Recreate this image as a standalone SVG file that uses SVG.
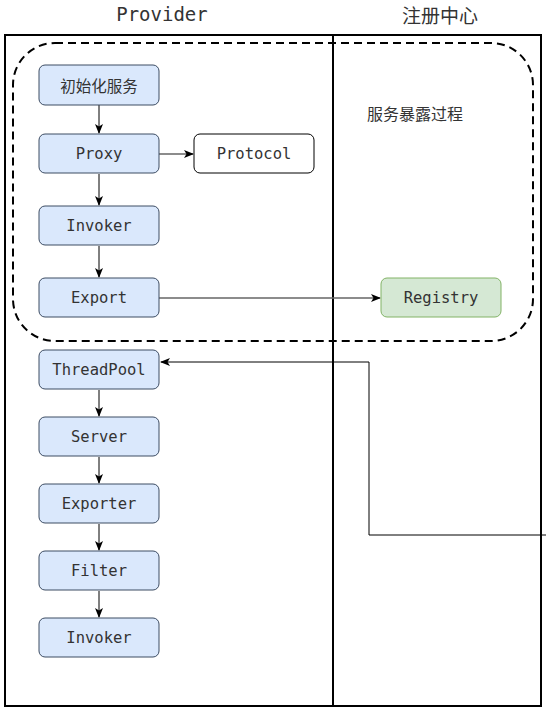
<svg xmlns="http://www.w3.org/2000/svg" width="546" height="708" viewBox="0 0 546 708">
<defs>
<style>
.lane{fill:none;stroke:#000;stroke-width:2}
.blue{fill:#dae8fc;stroke:#3c4c63;stroke-width:1}
.green{fill:#d5e8d4;stroke:#82b366;stroke-width:1}
.white{fill:#fff;stroke:#000;stroke-width:1}
.t{font-family:"DejaVu Sans Mono","Liberation Mono",monospace;font-size:15.5px;fill:#333;text-anchor:middle;dominant-baseline:central}
.cn{font-family:"Noto Sans CJK SC","Noto Sans",sans-serif;fill:#333;text-anchor:middle;dominant-baseline:central}
.c{fill:none;stroke:#000;stroke-width:1}
.cg{fill:none;stroke:#666;stroke-width:1.5}
</style>
<marker id="ah" viewBox="0 0 10 10" refX="9" refY="5" markerWidth="10" markerHeight="10" markerUnits="userSpaceOnUse" orient="auto">
<path d="M0,1 L10,5 L0,9 L2.5,5 Z" fill="#000"/>
</marker>
</defs>
<rect width="546" height="708" fill="#fff"/>
<g id="lanes">
<rect class="lane" x="5" y="35" width="328" height="671"/>
<rect class="lane" x="333" y="35" width="208" height="671"/>
<text class="t" x="162" y="14" style="font-size:19px">Provider</text>
<text class="cn" x="440" y="14" style="font-size:19px">注册中心</text>
</g>
<g id="group-export">
<rect x="13" y="43" width="520" height="298" rx="42" ry="42" fill="none" stroke="#000" stroke-width="2" stroke-dasharray="8,5"/>
<text class="cn" x="415" y="113" style="font-size:16px">服务暴露过程</text>
</g>
<g id="connectors">
<line class="c" x1="99" y1="105" x2="99" y2="133" marker-end="url(#ah)"/>
<line class="cg" x1="159" y1="154" x2="193" y2="154" marker-end="url(#ah)"/>
<line class="c" x1="99" y1="174" x2="99" y2="205" marker-end="url(#ah)"/>
<line class="c" x1="99" y1="246" x2="99" y2="277" marker-end="url(#ah)"/>
<line class="cg" x1="159" y1="298" x2="380" y2="298" marker-end="url(#ah)"/>
<polyline class="c" points="546,535 369,535 369,362 161,362" marker-end="url(#ah)"/>
<line class="c" x1="99" y1="390" x2="99" y2="416" marker-end="url(#ah)"/>
<line class="c" x1="99" y1="457" x2="99" y2="483" marker-end="url(#ah)"/>
<line class="c" x1="99" y1="524" x2="99" y2="550" marker-end="url(#ah)"/>
<line class="c" x1="99" y1="591" x2="99" y2="617" marker-end="url(#ah)"/>
</g>
<g id="n-init"><rect class="blue" x="39" y="65" width="120" height="40" rx="6"/><text class="cn" x="99" y="85" style="font-size:15.5px">初始化服务</text></g>
<g id="n-proxy"><rect class="blue" x="39" y="134" width="120" height="39" rx="6"/><text class="t" x="99" y="154">Proxy</text></g>
<g id="n-protocol"><rect class="white" x="194" y="134" width="120" height="39" rx="6"/><text class="t" x="254" y="154">Protocol</text></g>
<g id="n-invoker1"><rect class="blue" x="39" y="206" width="120" height="39" rx="6"/><text class="t" x="99" y="226">Invoker</text></g>
<g id="n-export"><rect class="blue" x="39" y="278" width="120" height="39" rx="6"/><text class="t" x="99" y="298">Export</text></g>
<g id="n-registry"><rect class="green" x="381" y="278" width="120" height="39" rx="6"/><text class="t" x="441" y="298">Registry</text></g>
<g id="n-threadpool"><rect class="blue" x="39" y="350" width="120" height="39" rx="6"/><text class="t" x="99" y="370">ThreadPool</text></g>
<g id="n-server"><rect class="blue" x="39" y="417" width="120" height="39" rx="6"/><text class="t" x="99" y="437">Server</text></g>
<g id="n-exporter"><rect class="blue" x="39" y="484" width="120" height="39" rx="6"/><text class="t" x="99" y="504">Exporter</text></g>
<g id="n-filter"><rect class="blue" x="39" y="551" width="120" height="39" rx="6"/><text class="t" x="99" y="571">Filter</text></g>
<g id="n-invoker2"><rect class="blue" x="39" y="618" width="120" height="39" rx="6"/><text class="t" x="99" y="638">Invoker</text></g>
</svg>
